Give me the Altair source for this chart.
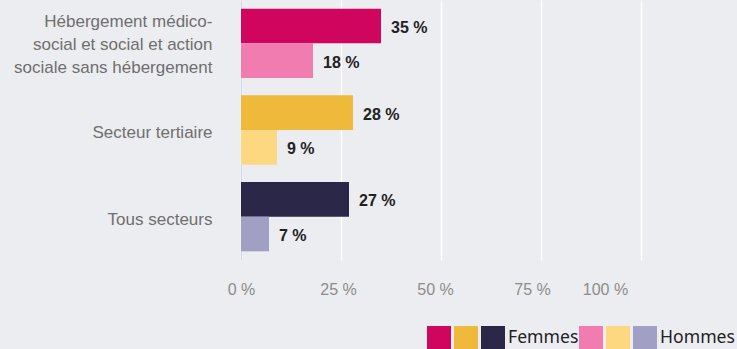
import altair as alt
import pandas as pd

# Sectors shown on the y axis, top to bottom
categories = [
    "Hébergement médico-social et social et action sociale sans hébergement",
    "Secteur tertiaire",
    "Tous secteurs",
]
# Multi-line form of the sector labels
category_lines = [
    ["Hébergement médico-", "social et social et action", "sociale sans hébergement"],
    ["Secteur tertiaire"],
    ["Tous secteurs"],
]
femmes = [35, 28, 27]
hommes = [18, 9, 7]
sexes = ["Femmes", "Hommes"]
femmes_colors = ["#d0065e", "#efb93c", "#2b2749"]
hommes_colors = ["#f07cb0", "#fdd880", "#a29fc5"]
tick_values = [0, 25, 50, 75, 100]

rows = []
for i, cat in enumerate(categories):
    rows.append({"secteur": cat, "sexe": "Femmes", "key": f"F{i}", "value": femmes[i]})
    rows.append({"secteur": cat, "sexe": "Hommes", "key": f"H{i}", "value": hommes[i]})
df = pd.DataFrame(rows)

color_domain = [f"F{i}" for i in range(3)] + [f"H{i}" for i in range(3)]
color_range = femmes_colors + hommes_colors

label_expr = " : ".join(
    f"datum.value == {cat!r} ? {lines!r}" for cat, lines in zip(categories, category_lines)
) + " : datum.label"

# Multi-line labels are anchored on their first line, so lift them by their extra lines
line_height = 23
offset_expr = " : ".join(
    f"datum.value == {cat!r} ? {3 - line_height * (len(lines) - 1) / 2 - 0.5 * (len(lines) - 1)}"
    for cat, lines in zip(categories, category_lines)
) + " : 3"

y_enc = alt.Y(
    "secteur:N",
    sort=categories,
    scale=alt.Scale(paddingInner=0.2, paddingOuter=0.1),
    axis=alt.Axis(
        title=None,
        labelExpr=label_expr,
        labelFont="Liberation Sans",
        labelFontSize=17,
        labelColor="#6f6f6f",
        labelLineHeight=line_height,
        labelPadding=29,
        labelOffset=alt.expr(offset_expr),
        labelLimit=300,
        ticks=False,
        domainColor="#ccd6eb",
        domainWidth=1,
        grid=False,
    ),
)
y_off = alt.YOffset("sexe:N", sort=sexes, scale=alt.Scale(paddingInner=0, paddingOuter=0))

x_enc = alt.X(
    "value:Q",
    scale=alt.Scale(domain=[0, 100], nice=False),
    axis=alt.Axis(
        title=None,
        values=tick_values,
        labelExpr="datum.value + ' %'",
        labelFont="Liberation Sans",
        labelFontSize=16,
        labelColor="#8c8c8c",
        labelPadding=21,
        labelFlush=False,
        labelOffset=alt.expr("datum.value == 100 ? -36 : -datum.value * 0.12"),
        ticks=False,
        domain=False,
        grid=True,
        gridColor="#ffffff",
        gridWidth=1.5,
    ),
)

bars = alt.Chart(df).mark_bar().encode(
    x=x_enc,
    y=y_enc,
    yOffset=y_off,
    color=alt.Color(
        "key:N",
        scale=alt.Scale(domain=color_domain, range=color_range),
        legend=alt.Legend(
            title=None,
            orient="none",
            legendX=186,
            legendY=326,
            direction="horizontal",
            columns=6,
            symbolType="square",
            symbolSize=576,
            symbolStrokeWidth=0,
            symbolOpacity=1,
            labelFont="Noto Sans",
            labelFontSize=17.6,
            labelColor="#222222",
            labelOffset=3,
            columnPadding=0,
            labelExpr="datum.value == 'F2' ? 'Femmes' : datum.value == 'H2' ? 'Hommes' : ''",
        ),
    ),
)

labels = alt.Chart(df).mark_text(
    align="left",
    baseline="middle",
    dx=10,
    dy=2,
    font="Liberation Sans",
    fontSize=16,
    fontWeight="bold",
    color="#222222",
).encode(
    x="value:Q",
    y=alt.Y("secteur:N", sort=categories),
    yOffset=alt.YOffset("sexe:N", sort=sexes),
    text=alt.Text("label:N"),
).transform_calculate(label="datum.value + ' %'")

chart = (
    alt.layer(bars, labels)
    .properties(
        width=400,
        height=260,
        background="#ecedf0",
        padding={"left": 241, "top": 0, "right": 96, "bottom": 89},
        autosize=alt.AutoSizeParams(type="none"),
    )
    .configure_view(stroke=None)
)

chart.save("out.html", embed_options={"renderer": "svg", "actions": False})
